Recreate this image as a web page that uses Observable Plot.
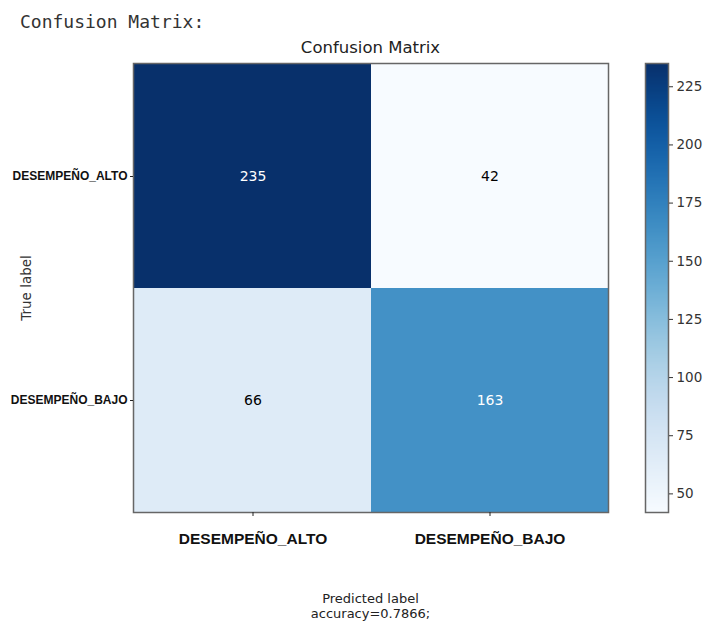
<!DOCTYPE html>
<html>
<head>
<meta charset="utf-8">
<script src="https://cdn.jsdelivr.net/npm/d3@7"></script>
<script src="https://cdn.jsdelivr.net/npm/@observablehq/plot@0.6"></script>
<style>
  html, body { margin: 0; padding: 0; background: #fff; }
  #root { position: relative; width: 708px; height: 622px; overflow: hidden; }
  .abs { position: absolute; }
  .txt { z-index: 2; }
  #heading { left: 20px; top: 11px; font: 18px "DejaVu Sans Mono", monospace; color: #333; line-height: 22px; white-space: pre; }
  #title { left: 133px; width: 475px; top: 38px; text-align: center; font: 16.5px "DejaVu Sans", sans-serif; color: #222; line-height: 20px; }
  #caption { left: 133px; width: 475px; top: 591px; text-align: center; font: 13px "DejaVu Sans", sans-serif; color: #222; line-height: 15px; }
</style>
</head>
<body>
<div id="root">
  <div id="main" class="abs" style="left:0;top:0"></div>
  <div id="bar" class="abs" style="left:620px;top:0"></div>
  <div id="heading" class="abs txt">Confusion Matrix:</div>
  <div id="title" class="abs txt">Confusion Matrix</div>
  <div id="caption" class="abs txt"></div>
</div>
<script>
// Class names (true and predicted share the same labels)
const classes = ["DESEMPEÑO_ALTO", "DESEMPEÑO_BAJO"];
// Confusion-matrix counts, one row per true class
const rowAlto = [235, 42];
const rowBajo = [66, 163];
const accuracy = 0.7866;
// Colour-bar tick values
const barTicks = [50, 75, 100, 125, 150, 175, 200, 225];

const counts = [rowAlto, rowBajo];
const cells = [];
classes.forEach((t, i) => classes.forEach((p, j) => cells.push({trueLabel: t, predicted: p, count: counts[i][j]})));
const all = counts.flat();
const lo = d3.min(all), hi = d3.max(all);
const thresh = hi / 2;
const color = {type: "linear", scheme: "blues", domain: [lo, hi]};

const H = 570, MT = 63, MB = 58;

const main = Plot.plot({
  width: 630, height: H,
  marginTop: MT, marginBottom: MB, marginLeft: 133, marginRight: 22,
  style: {fontFamily: "DejaVu Sans, sans-serif", color: "#222", background: "transparent"},
  x: {domain: classes, padding: 0, label: null},
  y: {domain: classes, padding: 0, label: null},
  color,
  marks: [
    Plot.cell(cells, {x: "predicted", y: "trueLabel", fill: "count", inset: 0}),
    Plot.text(cells, {x: "predicted", y: "trueLabel", text: d => String(d.count),
      fill: d => d.count > thresh ? "white" : "black", fontSize: 14}),
    Plot.frame({stroke: "#666", strokeWidth: 1.5}),
    Plot.axisX({anchor: "bottom", tickSize: 4, tickPadding: 16, fontSize: 15.5, fontWeight: "bold",
      fontFamily: "Liberation Sans, sans-serif", fill: "#111", label: null}),
    Plot.axisY({anchor: "left", tickSize: 3, tickPadding: 3, fontSize: 12, fontWeight: "bold",
      fontFamily: "Liberation Sans, sans-serif", fill: "#111",
      label: "True label", labelAnchor: "center", labelOffset: 112, labelArrow: "none"})
  ]
});
// axis label uses the regular weight and size
main.querySelectorAll("g[aria-label='y-axis label'] text").forEach(t => {
  t.setAttribute("font-weight", "normal");
  t.setAttribute("font-size", "13.5");
  t.setAttribute("font-family", "DejaVu Sans, sans-serif");
  t.setAttribute("fill", "#333");
});
document.getElementById("main").append(main);

const bar = Plot.plot({
  width: 88, height: H,
  marginTop: MT, marginBottom: MB, marginLeft: 25, marginRight: 40,
  style: {fontFamily: "DejaVu Sans, sans-serif", color: "#333", background: "transparent"},
  x: {domain: [0, 1], axis: null},
  y: {domain: [lo, hi], axis: null},
  color,
  marks: [
    Plot.raster({x1: 0, x2: 1, y1: lo, y2: hi, width: 1, height: 386, fill: (x, y) => y, imageRendering: "auto"}),
    Plot.frame({stroke: "#666", strokeWidth: 1.5}),
    Plot.axisY({anchor: "right", ticks: barTicks, tickFormat: d => String(d), tickSize: 4, tickPadding: 4, fontSize: 13.5, label: null})
  ]
});
document.getElementById("bar").append(bar);

document.getElementById("caption").innerHTML = "Predicted label<br>accuracy=" + accuracy.toFixed(4) + ";";
</script>
</body>
</html>
